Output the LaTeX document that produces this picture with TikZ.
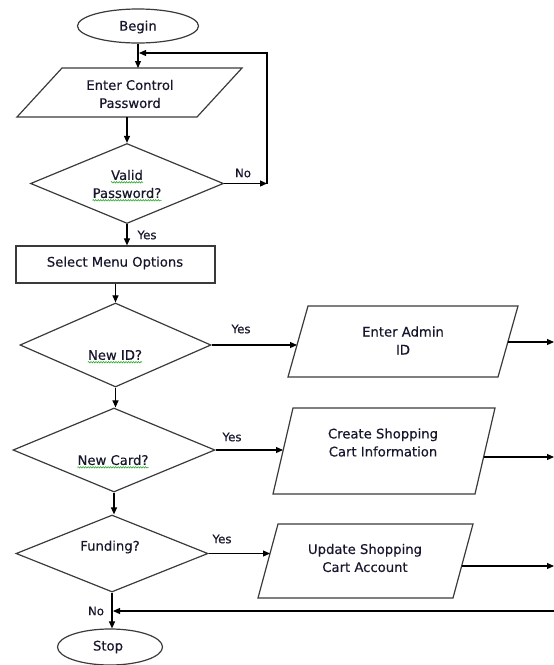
\documentclass[tikz,border=0pt]{standalone}
\usepackage{fontspec}
\setmainfont{DejaVu Sans}[FakeBold=0.35, AutoFakeBold=0.35]
\usetikzlibrary{shapes.geometric,arrows.meta,decorations.pathmorphing,calc}

\definecolor{ink}{RGB}{22,22,44}
\definecolor{edgegray}{RGB}{58,58,58}
\definecolor{spell}{RGB}{40,170,40}

\tikzset{
  shapeline/.style={draw=edgegray, line width=1.2pt},
  flow/.style={draw=black, line width=1.1pt, -{Triangle[length=7pt,width=6pt]}},
  txt/.style={font=\fontsize{13.2}{18}\selectfont\bfseries, text=ink, inner sep=0pt, align=center},
  lbl/.style={font=\fontsize{11.8}{14}\selectfont\bfseries, text=ink, inner sep=0pt},
  terminal/.style={shapeline, ellipse, inner sep=0pt},
  decision/.style={shapeline, diamond, inner sep=0pt},
  process/.style={shapeline, rectangle, inner sep=0pt},
  squiggle/.style={draw=spell, line width=0.6pt, decorate,
    decoration={snake, amplitude=0.7pt, segment length=2.5pt}},
}

\begin{document}
\begin{tikzpicture}[x=1pt,y=-1pt]
\useasboundingbox (0,0) rectangle (554,665);

% terminals, decisions and the menu box
\node[terminal, minimum width=121pt, minimum height=34pt] (begin) at (138,26) {};
\node[txt] (tbegin) at (138,27) {Begin};

\node[decision, minimum width=193pt, minimum height=80pt] (d1) at (127,183.5) {};
\node[process, minimum width=199pt, minimum height=37pt] (menu) at (115.5,264.5) {};
\node[decision, minimum width=191pt, minimum height=84pt] (d2) at (115.5,345) {};
\node[decision, minimum width=202pt, minimum height=84pt] (d3) at (114,450) {};
\node[decision, minimum width=192pt, minimum height=77pt] (d4) at (112,553.5) {};
\node[terminal, minimum width=105pt, minimum height=36pt] (stop) at (110,647) {};

% input/output parallelograms
\draw[shapeline] (62,68) coordinate (p1tl) -- (242,68) -- (197,117) coordinate (p1br)
  -- (17,117) coordinate (p1bl) -- cycle;
\draw[shapeline] (308,306) -- (518,306) -- (498,377) -- (288,377) -- cycle;
\draw[shapeline] (293,408) -- (495,408) -- (475,494) -- (273,494) -- cycle;
\draw[shapeline] (278,524) -- (473,524) -- (453,598) -- (258,598) -- cycle;

% texts
\node[txt] (tp1) at (130,94) {Enter Control\\Password};
\node[txt] (tvalid) at (127,175) {Valid};
\node[txt] (tpass) at (127,193) {Password?};
\node[txt] (tmenu) at (115,263) {Select Menu Options};
\node[txt] (tnewid) at (115,355) {New ID?};
\node[txt] (tp2) at (403,340.5) {Enter Admin\\ID};
\node[txt] (tnewcard) at (113,460) {New Card?};
\node[txt] (tp3) at (383,442.5) {Create Shopping\\Cart Information};
\node[txt] (tfund) at (110,547) {Funding?};
\node[txt] (tp4) at (365,558) {Update Shopping\\Cart Account};
\node[txt] (tstop) at (108,647) {Stop};

% spelling marks under words
\foreach \w in {tvalid,tpass,tnewid,tnewcard}
  \draw[squiggle] ([yshift=-2pt]\w.south west) -- ([yshift=-2pt]\w.south east);

% branch labels
\node[lbl] (lno1) at (243,173) {No};
\node[lbl] (lyes1) at (147,235) {Yes};
\node[lbl] (lyes2) at (241,329) {Yes};
\node[lbl] (lyes3) at (232,437) {Yes};
\node[lbl] (lyes4) at (222,539) {Yes};
\node[lbl] (lno2) at (96,611) {No};

% connector end points
\coordinate (loopb) at (267,183.5);
\coordinate (loopt) at (267,53);
\coordinate (p2in) at (297,345);
\coordinate (p2out) at (508,342);
\coordinate (p2end) at (554,342);
\coordinate (p3in) at (283,450);
\coordinate (p3out) at (484,457);
\coordinate (p3end) at (554,457);
\coordinate (p4in) at (270,553.5);
\coordinate (p4out) at (462,566);
\coordinate (p4end) at (554,566);
\coordinate (retstart) at (554,611);

% connectors
\draw[flow] (begin.south) -- (begin.south |- p1tl);
\draw[flow] (d1.north |- p1bl) -- (d1.north);
\draw[flow] (d1.east) -- (loopb);
\draw[flow] (loopb) -- (loopt) -- ([xshift=1pt]begin.south |- loopt);
\draw[flow] (d1.south) -- (d1.south |- menu.north);
\draw[flow] (menu.south) -- (d2.north);
\draw[flow] (d2.east) -- (p2in);
\draw[flow] (p2out) -- (p2end);
\draw[flow] (d2.south) -- (d2.south |- d3.north);
\draw[flow] (d3.east) -- (p3in);
\draw[flow] (p3out) -- (p3end);
\draw[flow] (d3.south) -- (d3.south |- d4.north);
\draw[flow] (d4.east) -- (p4in);
\draw[flow] (p4out) -- (p4end);
\draw[flow] (d4.south) -- (d4.south |- stop.north);
\draw[flow] (retstart) -- ([xshift=1pt]retstart -| d4.south);
\end{tikzpicture}
\end{document}
